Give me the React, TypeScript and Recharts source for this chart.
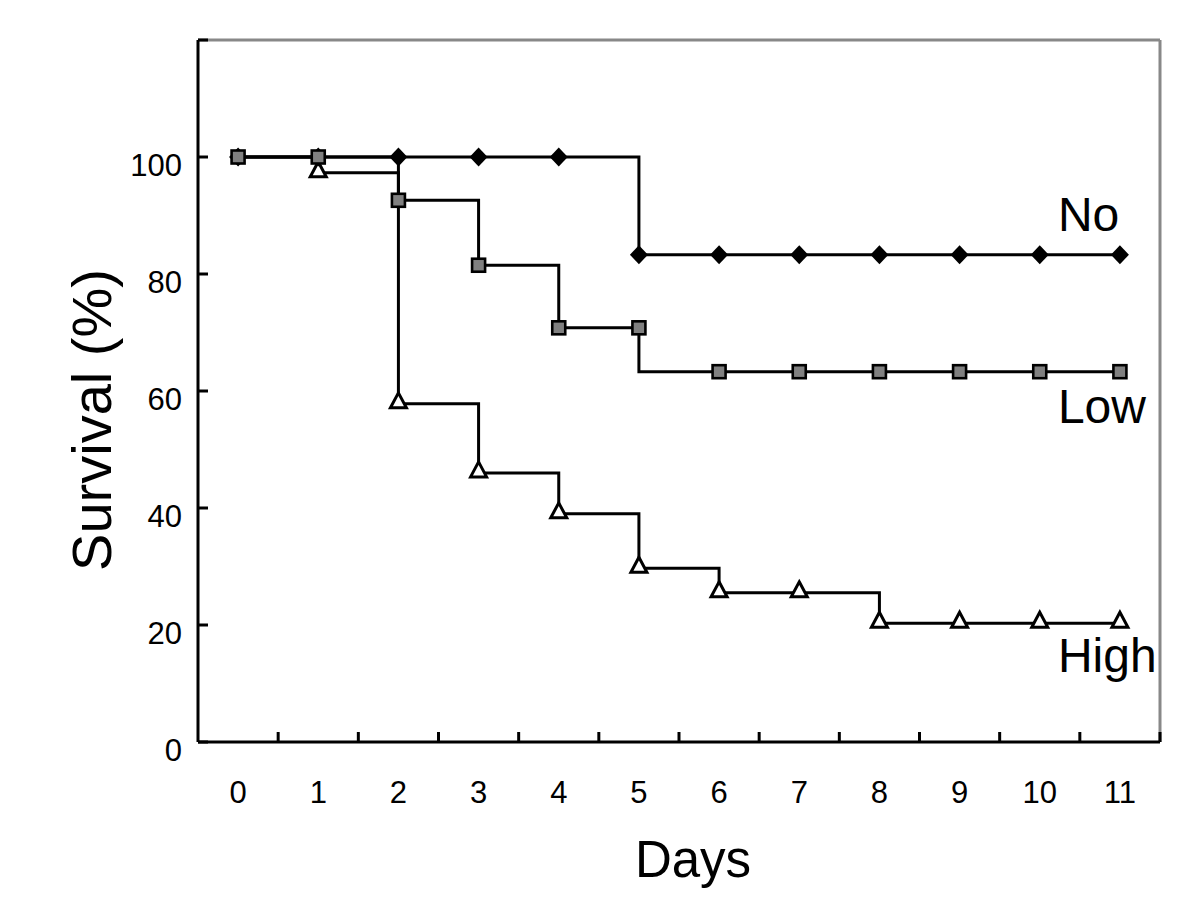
import { LineChart, Line, XAxis, YAxis, ReferenceLine, LabelList, Label } from 'recharts';

const FONT = '"Liberation Sans", Arial, Helvetica, sans-serif';

// days after treatment
const days = [0, 1, 2, 3, 4, 5, 6, 7, 8, 9, 10, 11];

// survival (%) per group
const noDose = [100, 100, 100, 100, 100, 83.3, 83.3, 83.3, 83.3, 83.3, 83.3, 83.3];
const lowDose = [100, 100, 92.6, 81.5, 70.8, 63.3, 63.3, 63.3, 63.3, 63.3, 63.3, 63.3];
// markers for the low group sit on the upper step at day 5
const lowDoseMarks = [100, 100, 92.6, 81.5, 70.8, 70.8, 63.3, 63.3, 63.3, 63.3, 63.3, 63.3];
const highDose = [100, 97.3, 57.8, 46.0, 39.0, 29.7, 25.5, 25.5, 20.3, 20.3, 20.3, 20.3];

const yTicks = [0, 20, 40, 60, 80, 100, 120];
const xTicks = [...days, ...days.map((d) => d + 0.5)].sort((a, b) => a - b);

const rows = days.map((day, i) => ({
  day,
  no: noDose[i],
  low: lowDose[i],
  lowMark: lowDoseMarks[i],
  high: highDose[i],
}));

function DayTick({ x, y, payload }: any) {
  const v = payload.value;
  if (Number.isInteger(v)) {
    return (
      <text x={x} y={y + 61} textAnchor="middle" fontSize={31} fontFamily={FONT} fill="#000">
        {v}
      </text>
    );
  }
  // tick marks sit between the days, pointing into the plot
  return <line x1={x} x2={x} y1={y} y2={y - 10} stroke="#000" strokeWidth={3} />;
}

function SurvivalTick({ x, y, payload }: any) {
  return (
    <g>
      <line x1={x} x2={x + 10} y1={y} y2={y} stroke="#000" strokeWidth={3} />
      {payload.value <= 100 && (
        <text x={x - 16} y={y + 19} textAnchor="end" fontSize={31} fontFamily={FONT} fill="#000">
          {payload.value}
        </text>
      )}
    </g>
  );
}

const Diamond = ({ cx, cy }: any) => (
  <path d={`M${cx},${cy - 9.5} L${cx + 9},${cy} L${cx},${cy + 9.5} L${cx - 9},${cy} Z`} fill="#000" />
);

const Square = ({ cx, cy }: any) => (
  <rect x={cx - 6.5} y={cy - 6.5} width={13} height={13} fill="#808080" stroke="#000" strokeWidth={2.6} />
);

const Triangle = ({ cx, cy, index }: any) =>
  index === 0 ? (
    <g />
  ) : (
    <path
      d={`M${cx},${cy - 11} L${cx + 8},${cy + 4} L${cx - 8},${cy + 4} Z`}
      fill="#fff"
      stroke="#000"
      strokeWidth={3}
    />
  );

function groupLabel(text: string, dy: number) {
  return (props: any) => {
    if (props.index !== days.length - 1) return null;
    const px = props.viewBox?.x ?? props.x;
    const py = props.viewBox?.y ?? props.y;
    return (
      <text x={px - 62} y={py + dy} fontSize={48} fontFamily={FONT} fill="#000">
        {text}
      </text>
    );
  };
}

const DaysTitle = ({ viewBox }: any) => (
  <text
    x={viewBox.x + viewBox.width / 2 + 14}
    y={viewBox.y + 135}
    textAnchor="middle"
    fontSize={51}
    fontFamily={FONT}
    fill="#000"
  >
    Days
  </text>
);

const SurvivalTitle = ({ viewBox }: any) => {
  const cx = viewBox.x + 103;
  const cy = viewBox.y + viewBox.height / 2 + 29;
  return (
    <text
      x={cx}
      y={cy}
      transform={`rotate(-90, ${cx}, ${cy})`}
      textAnchor="middle"
      fontSize={56}
      fontFamily={FONT}
      fill="#000"
    >
      Survival (%)
    </text>
  );
};

export default function App() {
  return (
    <LineChart
      width={1184}
      height={905}
      data={rows}
      margin={{ top: 32, right: 32, bottom: 0, left: 0 }}
    >
      <XAxis
        dataKey="day"
        type="number"
        domain={[-0.5, 11.5]}
        ticks={xTicks}
        interval={0}
        height={171}
        tickSize={0}
        tickMargin={0}
        tickLine={false}
        tick={DayTick}
        axisLine={{ stroke: '#000', strokeWidth: 3 }}
      >
        <Label content={DaysTitle} />
      </XAxis>
      <YAxis
        type="number"
        domain={[0, 120]}
        ticks={yTicks}
        interval={0}
        width={190}
        tickSize={0}
        tickMargin={0}
        tickLine={false}
        tick={SurvivalTick}
        axisLine={{ stroke: '#000', strokeWidth: 3 }}
      >
        <Label content={SurvivalTitle} />
      </YAxis>

      <ReferenceLine y={120} stroke="#888" strokeWidth={3} />
      <ReferenceLine x={11.5} stroke="#888" strokeWidth={3} />

      <Line
        type="stepAfter"
        dataKey="high"
        stroke="#000"
        strokeWidth={3}
        dot={(p: any) => <Triangle key={`h${p.index}`} {...p} />}
        activeDot={false}
        isAnimationActive={false}
      >
        <LabelList dataKey="high" content={groupLabel('High', 49)} />
      </Line>
      <Line
        type="stepAfter"
        dataKey="no"
        stroke="#000"
        strokeWidth={3}
        dot={(p: any) => <Diamond key={`n${p.index}`} {...p} />}
        activeDot={false}
        isAnimationActive={false}
      >
        <LabelList dataKey="no" content={groupLabel('No', -24)} />
      </Line>
      <Line
        type="stepAfter"
        dataKey="low"
        stroke="#000"
        strokeWidth={3}
        dot={false}
        activeDot={false}
        isAnimationActive={false}
      >
        <LabelList dataKey="low" content={groupLabel('Low', 51)} />
      </Line>
      <Line
        dataKey="lowMark"
        stroke="none"
        dot={(p: any) => <Square key={`l${p.index}`} {...p} />}
        activeDot={false}
        isAnimationActive={false}
      />
    </LineChart>
  );
}
